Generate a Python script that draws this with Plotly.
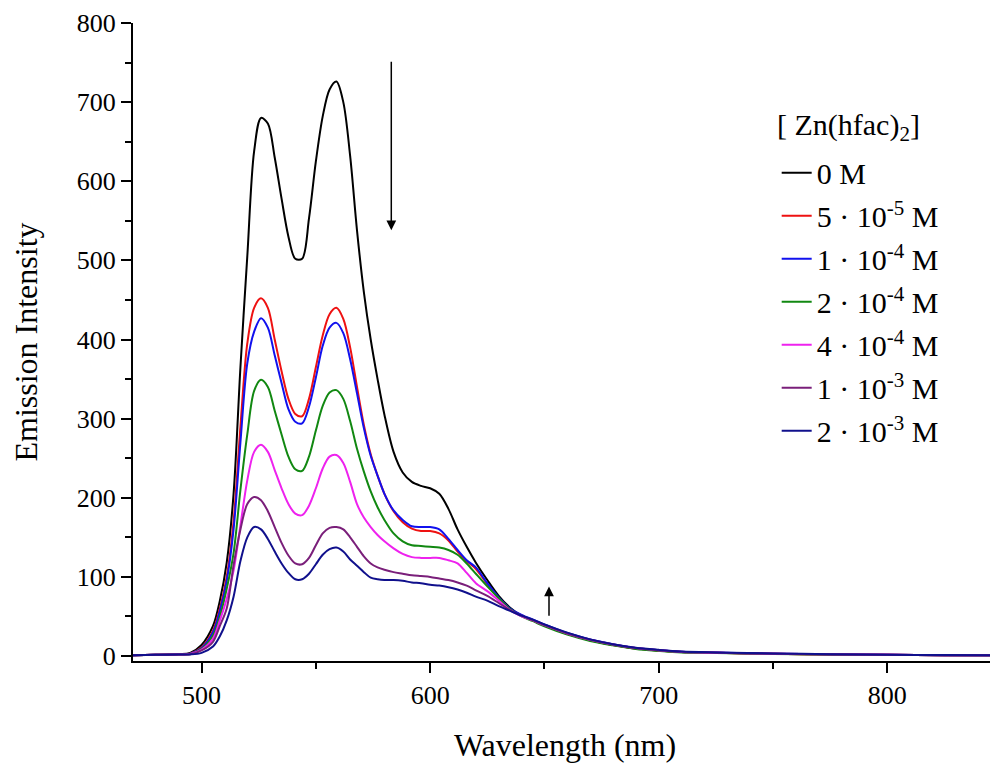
import plotly.graph_objects as go

# Wavelength grid (nm)
wavelength = [470, 480, 490, 495, 500, 505, 508, 511, 514, 517, 520, 523, 526, 529, 532, 535, 538,
              541, 544, 547, 550, 553, 556, 559, 562, 565, 568, 571, 574, 577, 580, 584, 588, 592,
              596, 600, 604, 608, 612, 616, 620, 625, 630, 635, 640, 645, 650, 660, 670, 680, 690,
              700, 710, 725, 750, 775, 800, 825, 850]

conc_0 = [1, 1.5, 2.5, 4, 14, 38, 70, 118, 205, 365, 505, 638, 680, 673, 630, 578, 530,
          502, 502, 553, 625, 682, 716, 726, 700, 632, 538, 460, 400, 350, 305, 258, 232, 220,
          215, 212, 205, 186, 160, 138, 118, 96, 76, 61, 51, 45, 39, 28, 20, 14, 9.5,
          7, 5, 4, 2.8, 2, 1.5, 1, 0.8]

conc_5e5 = [1, 1.5, 2.2, 3, 11, 32, 60, 100, 170, 290, 395, 440, 452, 440, 400, 360, 325,
            306, 303, 325, 365, 405, 432, 440, 426, 390, 340, 292, 255, 228, 205, 183, 169, 161,
            158, 158, 155, 146, 132, 120, 110, 91, 73, 59, 51, 45, 39, 28, 20, 14, 9.5,
            7, 5, 4, 2.8, 2, 1.5, 1, 0.8]

conc_1e4 = [1, 1.5, 2.2, 3, 10, 30, 57, 95, 160, 270, 370, 410, 427, 415, 380, 345, 312,
            296, 294, 315, 352, 392, 415, 421, 408, 375, 332, 288, 253, 228, 205, 184, 172, 164,
            163, 163, 160, 148, 134, 121, 112, 92, 74, 60, 52, 46, 40, 29, 21, 15, 10,
            7.5, 5.5, 4.3, 3, 2.2, 1.6, 1.1, 0.9]

conc_2e4 = [1, 1.5, 2, 2.5, 9, 26, 50, 85, 130, 210, 280, 335, 349, 340, 310, 280, 252,
            236, 234, 252, 285, 316, 333, 336, 325, 297, 262, 233, 208, 188, 172, 155, 145, 140,
            139, 138, 137, 134, 128, 117, 104, 88, 73, 59, 50, 44, 37.5, 27, 19, 13.5, 9,
            6.5, 4.6, 3.7, 2.6, 1.9, 1.4, 1, 0.8]

conc_4e4 = [1, 1.5, 2, 2.5, 8, 22, 45, 72, 108, 165, 222, 258, 267, 258, 235, 212, 192,
            180, 178, 190, 212, 237, 252, 254, 244, 220, 192, 175, 163, 153, 145, 136, 129, 125,
            124, 124, 124, 121, 117, 105, 92, 82, 70, 58, 50, 45, 39, 28.5, 20.5, 14.5, 10,
            7.2, 5.2, 4.1, 2.9, 2.1, 1.5, 1, 0.8]

conc_1e3 = [1, 1.5, 2, 2.2, 7, 18, 38, 60, 115, 160, 192, 201, 197, 183, 163, 143, 127,
            117, 116, 124, 140, 155, 162, 163, 160, 150, 138, 126, 117, 112, 109, 106, 104, 102,
            101, 100, 98, 96, 93, 89, 83, 76, 67, 58, 51, 45, 39, 28.5, 20.5, 14.5, 10,
            7.3, 5.3, 4.2, 3, 2.1, 1.6, 1.1, 0.9]

conc_2e3 = [1, 1.5, 1.8, 2, 4, 12, 25, 45, 75, 120, 150, 163, 160, 148, 132, 117, 105,
            97, 97, 104, 116, 128, 135, 137, 132, 122, 114, 106, 99, 97, 96, 96, 95, 93,
            92, 90, 89, 87, 84, 80, 75, 70, 63, 57, 51, 46, 40, 29.5, 21, 15, 10.5,
            7.8, 5.7, 4.5, 3.2, 2.3, 1.7, 1.2, 1]

series_names = ["0 M", "5 · 10<sup>-5</sup> M", "1 · 10<sup>-4</sup> M", "2 · 10<sup>-4</sup> M",
                "4 · 10<sup>-4</sup> M", "1 · 10<sup>-3</sup> M", "2 · 10<sup>-3</sup> M"]
series_values = [conc_0, conc_5e5, conc_1e4, conc_2e4, conc_4e4, conc_1e3, conc_2e3]
series_colors = ["#000000", "#ee1111", "#1111ee", "#118811", "#ee22ee", "#7a1f7a", "#10108c"]
legend_title = "[ Zn(hfac)<sub>2</sub>]"

x_ticks = [500, 600, 700, 800]
y_ticks = [0, 100, 200, 300, 400, 500, 600, 700, 800]

# arrows: (x, y_tail, y_head)
arrow_down = (583, 753, 538)
arrow_up = (652, 49, 88)

FONT = "Liberation Serif, Times New Roman, serif"

fig = go.Figure()
for i, (name, vals, col) in enumerate(zip(series_names, series_values, series_colors)):
    fig.add_trace(go.Scatter(
        x=wavelength, y=vals, mode="lines", name=name,
        line=dict(color=col, width=2, shape="spline", smoothing=0.9),
        legendgroup=f"g{i}",
    ))

for (ax_, tail, head) in [arrow_down, arrow_up]:
    fig.add_annotation(
        x=ax_, y=head, ax=ax_, ay=tail, xref="x", yref="y", axref="x", ayref="y",
        showarrow=True, arrowhead=2, arrowsize=1.3, arrowwidth=1.5, arrowcolor="#000000",
        text="",
    )

# legend heading
fig.add_annotation(
    text=legend_title, xref="paper", yref="paper", x=0.828, y=0.837,
    xanchor="center", yanchor="middle", showarrow=False,
    font=dict(family=FONT, size=30, color="black"),
)

axis_common = dict(
    showline=True, linecolor="black", linewidth=2, mirror=False,
    ticks="outside", ticklen=10, tickwidth=2, tickcolor="black",
    showgrid=False, zeroline=False,
    tickfont=dict(family=FONT, size=26, color="black"),
)

fig.update_xaxes(
    range=[470, 848], tickvals=x_ticks,
    title=dict(text="Wavelength (nm)", font=dict(family=FONT, size=32, color="black"), standoff=24),
    minor=dict(dtick=50, tick0=450, ticks="outside", ticklen=6, tickwidth=2, tickcolor="black", showgrid=False),
    **axis_common,
)
fig.update_yaxes(
    range=[-6.3, 800], tickvals=y_ticks,
    title=dict(text="Emission Intensity", font=dict(family=FONT, size=32, color="black"), standoff=33),
    minor=dict(dtick=50, tick0=0, ticks="outside", ticklen=6, tickwidth=2, tickcolor="black", showgrid=False),
    **axis_common,
)

fig.update_layout(
    width=990, height=756,
    margin=dict(l=125, r=1, t=15, b=103),
    paper_bgcolor="white", plot_bgcolor="white",
    font=dict(family=FONT, color="black"),
    showlegend=True,
    legend=dict(
        x=0.745, y=0.806, xanchor="left", yanchor="top",
        bgcolor="rgba(0,0,0,0)",
        font=dict(family=FONT, size=30, color="black"),
        tracegroupgap=1,
        itemwidth=30,
    ),
)

fig.write_html("out.html")
